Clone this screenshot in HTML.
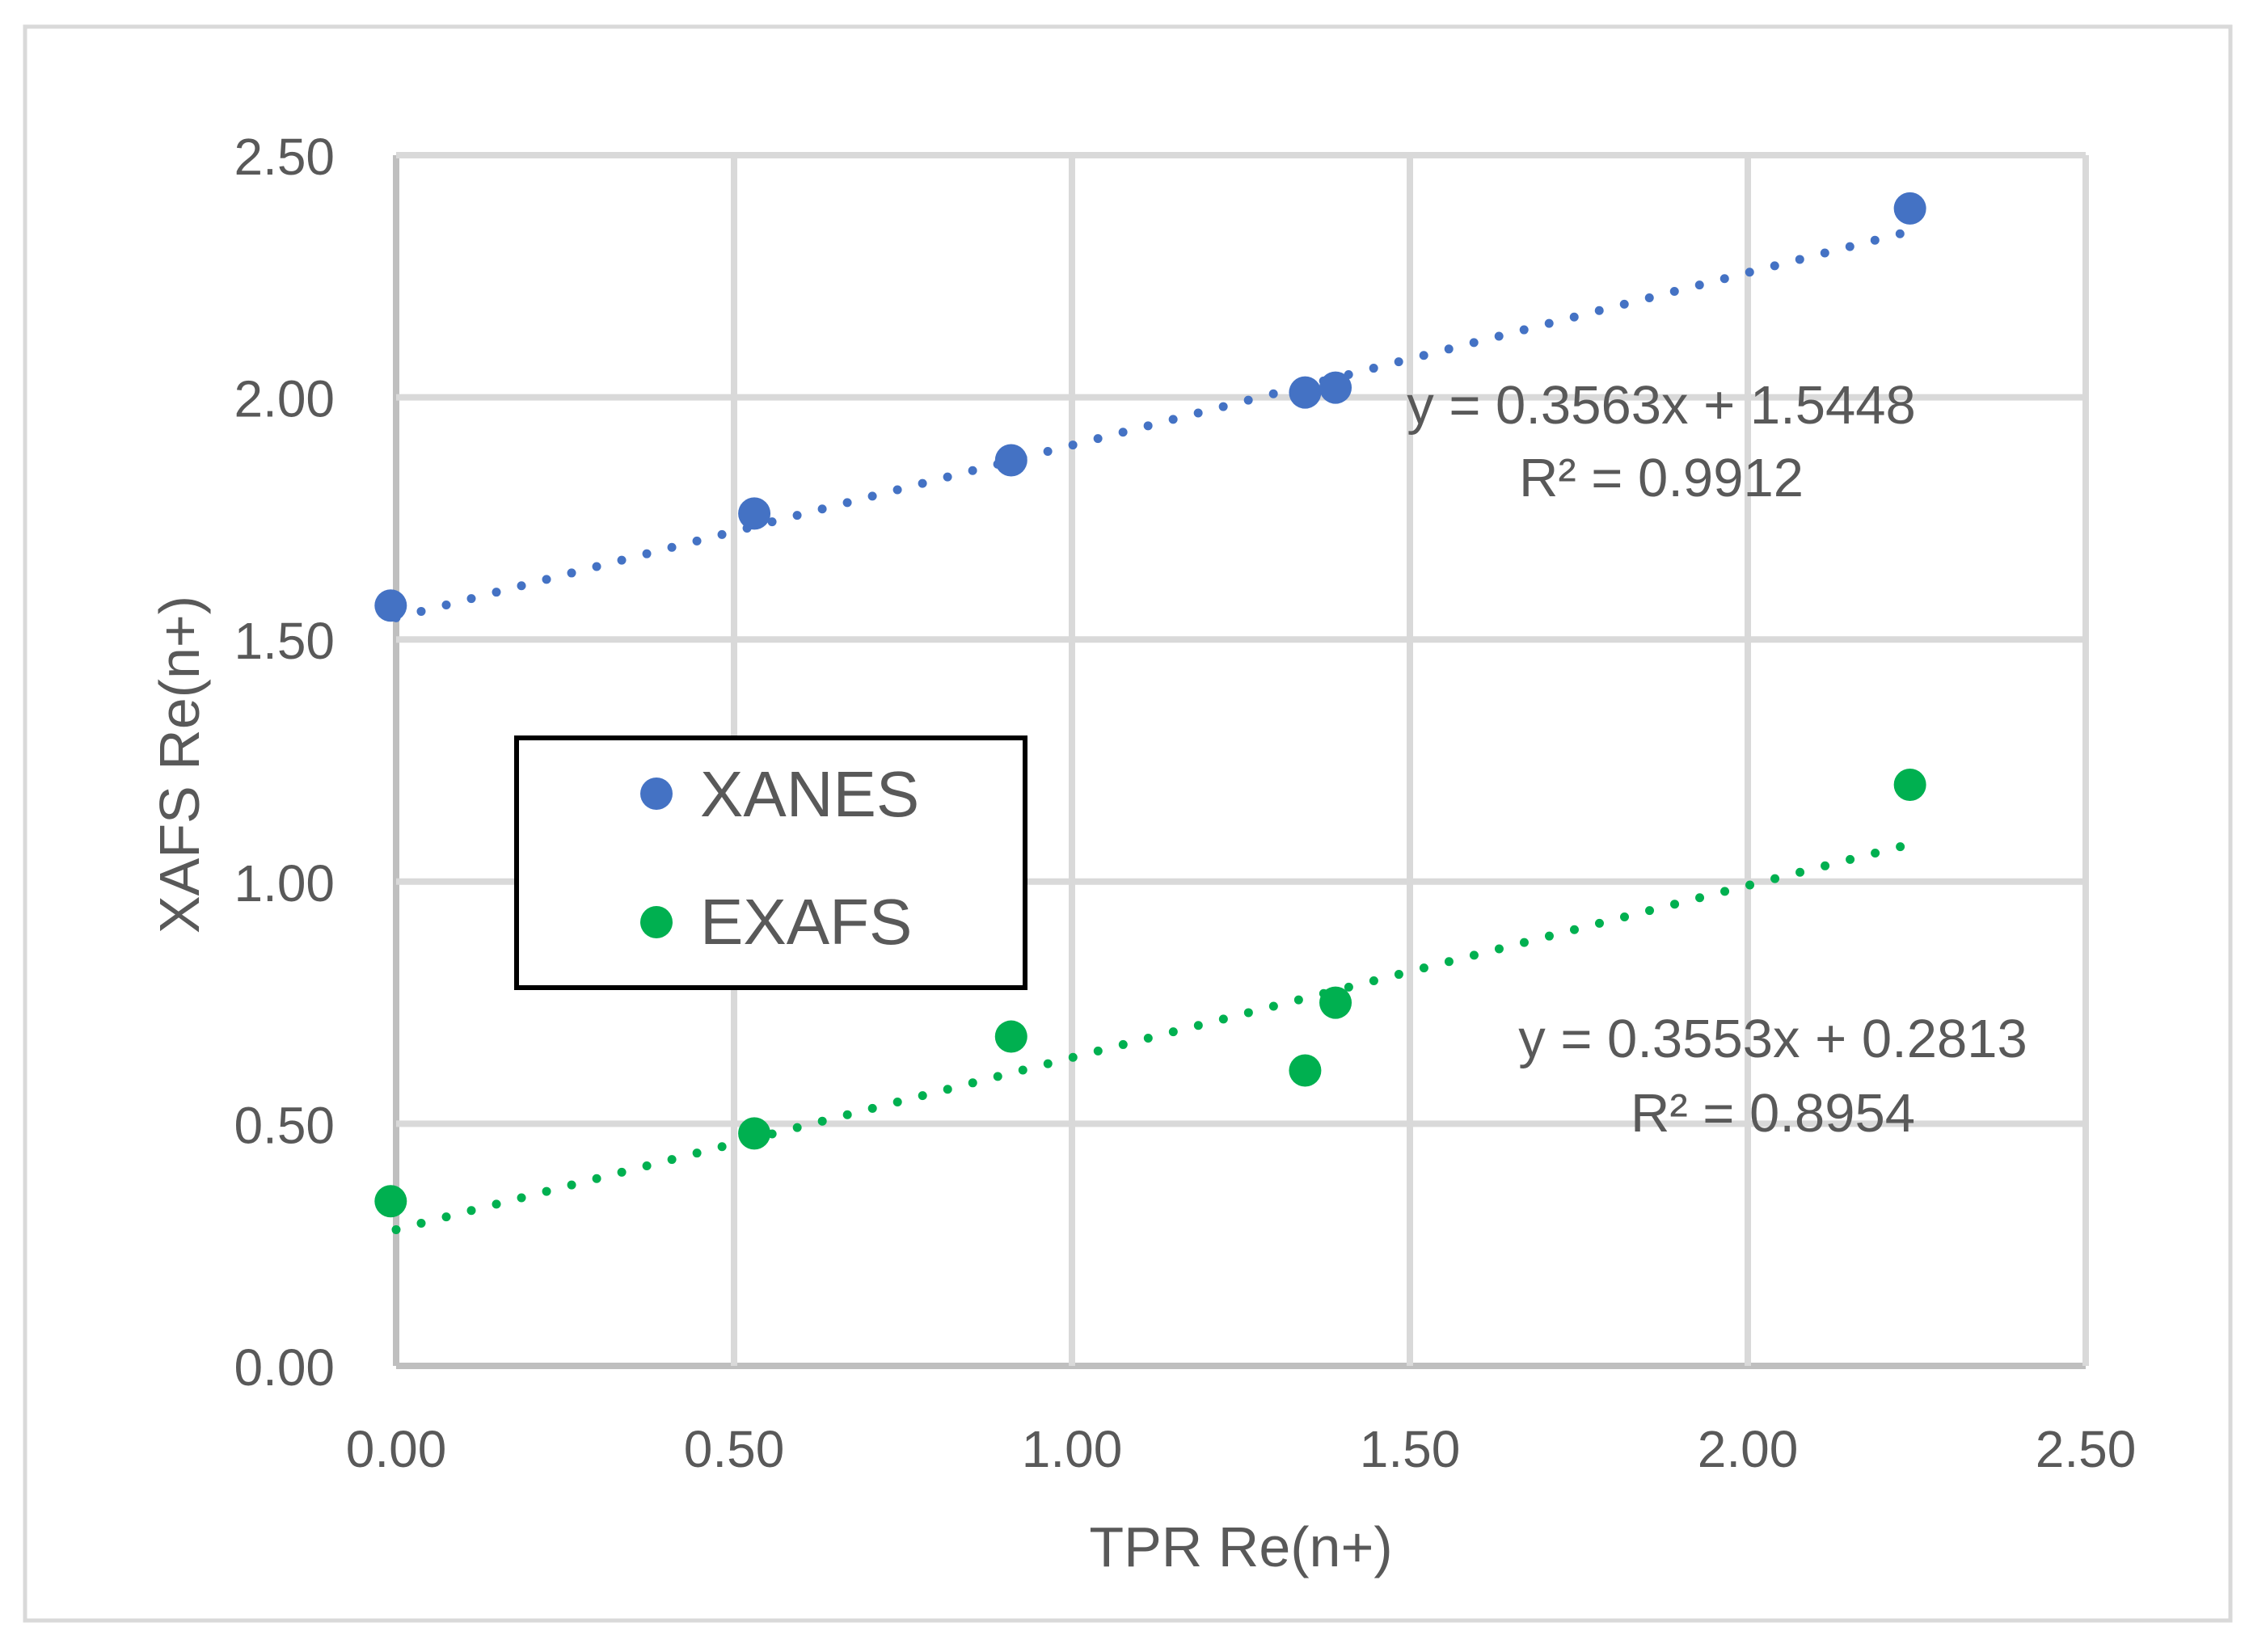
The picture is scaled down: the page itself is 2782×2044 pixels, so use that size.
<!DOCTYPE html>
<html><head><meta charset="utf-8"><style>
html,body{margin:0;padding:0;background:#fff;}
svg{display:block;font-family:"Liberation Sans",sans-serif;}
</style></head><body>
<svg id="chart" width="2782" height="2044" viewBox="0 0 2782 2044">
<rect x="31" y="33" width="2728" height="1972" fill="#fff" stroke="#d9d9d9" stroke-width="5"/>
<g id="grid"></g>
<g id="ticks"></g>
<g id="trends"></g>
<g id="points"></g>
<text x="1535" y="1938" font-size="70" fill="#595959" text-anchor="middle">TPR Re(n+)</text>
<text x="0" y="0" font-size="70" fill="#595959" text-anchor="middle" transform="translate(246,946) rotate(-90)">XAFS Re(n+)</text>
<text x="2055" y="524" font-size="67" fill="#595959" text-anchor="middle">y = 0.3563x + 1.5448</text>
<text x="2055" y="614" font-size="67" fill="#595959" text-anchor="middle">R² = 0.9912</text>
<text x="2193" y="1308" font-size="67" fill="#595959" text-anchor="middle">y = 0.3553x + 0.2813</text>
<text x="2193" y="1400" font-size="67" fill="#595959" text-anchor="middle">R² = 0.8954</text>
<g>
<rect x="639" y="913" width="629" height="309" fill="#fff" stroke="#000" stroke-width="6"/>
<circle cx="812" cy="982" r="20" fill="#4472c4"/>
<text x="866" y="1010" font-size="80" fill="#595959">XANES</text>
<circle cx="812" cy="1141" r="20" fill="#00b050"/>
<text x="866" y="1168" font-size="80" fill="#595959">EXAFS</text>
</g>
</svg>
<script>
const tickValues = [0, 0.5, 1.0, 1.5, 2.0, 2.5];
const tickLabels = ["0.00", "0.50", "1.00", "1.50", "2.00", "2.50"];
const xValues = [-0.008, 0.53, 0.91, 1.345, 1.39, 2.24];
const xanesValues = [1.57, 1.76, 1.87, 2.01, 2.02, 2.39];
const exafsValues = [0.34, 0.48, 0.68, 0.61, 0.75, 1.20];
const xanesFit = [0.3563, 1.5448];
const exafsFit = [0.3553, 0.2813];

const NS = "http://www.w3.org/2000/svg";
const X0 = 490, X1 = 2580, Y0 = 1690, Y1 = 192;
function sx(v){ return X0 + (v / 2.5) * (X1 - X0); }
function sy(v){ return Y0 - (v / 2.5) * (Y0 - Y1); }
function mk(tag, attrs, parent){
  const e = document.createElementNS(NS, tag);
  for (const k in attrs) e.setAttribute(k, attrs[k]);
  parent.appendChild(e);
  return e;
}
const grid = document.getElementById('grid');
const ticks = document.getElementById('ticks');
tickValues.forEach((v, i) => {
  const isAxis = i === 0;
  const vl = mk('line', {x1: sx(v), x2: sx(v), y1: Y1, y2: Y0, stroke: isAxis ? '#bfbfbf' : '#d9d9d9', 'stroke-width': 8}, grid);
  
  
  const hl = mk('line', {x1: X0, x2: X1, y1: sy(v), y2: sy(v), stroke: isAxis ? '#bfbfbf' : '#d9d9d9', 'stroke-width': 8}, grid);
  
  
  const xt = mk('text', {x: sx(v), y: 1815, 'font-size': 64, fill: '#595959', 'text-anchor': 'middle'}, ticks);
  xt.textContent = tickLabels[i];
  
  
  const yt = mk('text', {x: 414, y: sy(v) + 24, 'font-size': 64, fill: '#595959', 'text-anchor': 'end'}, ticks);
  yt.textContent = tickLabels[i];
  
  
});
const trends = document.getElementById('trends');
function trend(fit, color, name){
  const xa = 0, xb = xValues[xValues.length - 1];
  const l = mk('line', {x1: sx(xa), y1: sy(fit[0]*xa + fit[1]), x2: sx(xb), y2: sy(fit[0]*xb + fit[1]), stroke: color, 'stroke-width': 11, 'stroke-linecap': 'round', 'stroke-dasharray': '0 32'}, trends);
  
  
}
trend(xanesFit, '#4472c4', 'xanes-trendline');
trend(exafsFit, '#00b050', 'exafs-trendline');
const pts = document.getElementById('points');
xValues.forEach((x, i) => {
  const a = mk('circle', {cx: sx(x), cy: sy(xanesValues[i]), r: 20, fill: '#4472c4'}, pts);
  
  
  const b = mk('circle', {cx: sx(x), cy: sy(exafsValues[i]), r: 20, fill: '#00b050'}, pts);
  
  
});
</script>
</body></html>
